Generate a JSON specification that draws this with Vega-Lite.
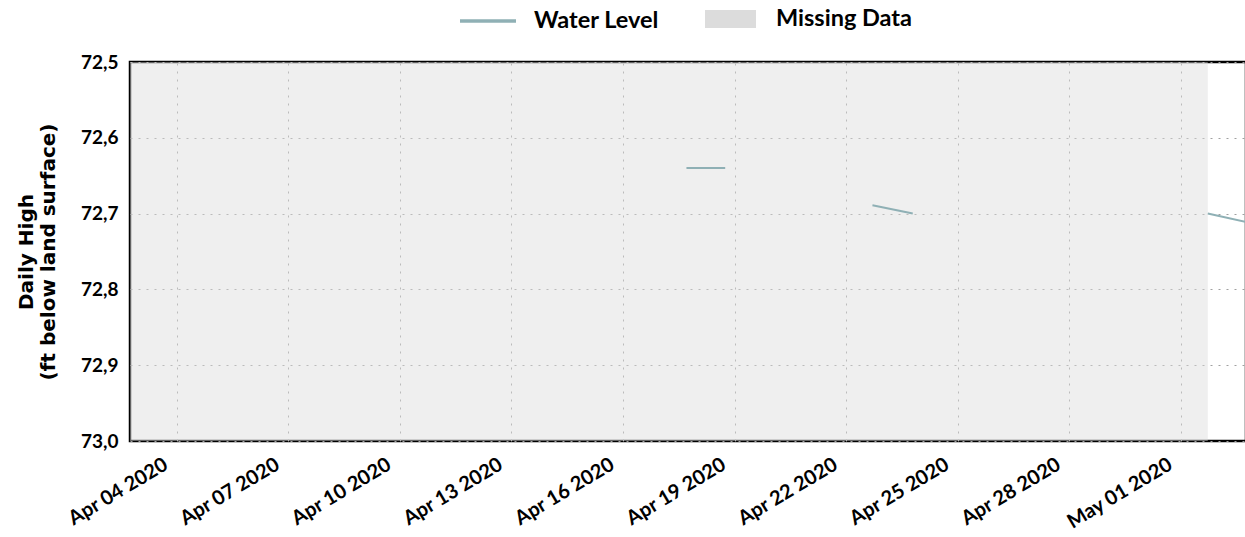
{
  "$schema": "https://vega.github.io/schema/vega-lite/v6.json",
  "autosize": {"type": "none"},
  "padding": {"left": 130, "top": 62, "right": 0, "bottom": 96},
  "width": 1116,
  "height": 379,
  "config": {
    "view": {"stroke": "black", "strokeWidth": 2.5},
    "font": "Lato",
    "axis": {
      "labelFont": "Lato", "labelFontWeight": "bold", "labelColor": "black",
      "titleFont": "DejaVu Sans", "titleFontWeight": "bold", "titleColor": "black",
      "domain": false, "ticks": false,
      "grid": true, "gridColor": "#a0a0a0", "gridDash": [2, 6], "gridWidth": 1,
      "zindex": 1
    },
    "legend": {
      "labelFont": "Lato", "labelFontWeight": "bold", "labelColor": "black", "labelFontSize": 23.5,
      "symbolOpacity": 1, "padding": 0
    }
  },
  "datasets": {
    "level": [
      {"date": "2020-04-17T17:00:00", "level": 72.64, "seg": "a"},
      {"date": "2020-04-18T18:00:00", "level": 72.64, "seg": "a"},
      {"date": "2020-04-22T17:00:00", "level": 72.689, "seg": "b"},
      {"date": "2020-04-23T19:00:00", "level": 72.7, "seg": "b"},
      {"date": "2020-05-01T17:20:00", "level": 72.7, "seg": "c"},
      {"date": "2020-05-02T18:00:00", "level": 72.711, "seg": "c"}
    ],
    "missing": [
      {"start": "2020-04-02T18:00:00", "end": "2020-05-01T17:20:00"}
    ]
  },
  "layer": [
    {
      "data": {"name": "missing"},
      "mark": {"type": "rect", "opacity": 0.45},
      "encoding": {
        "x": {"field": "start", "type": "temporal"},
        "x2": {"field": "end"},
        "color": {
          "datum": "Missing Data",
          "type": "nominal",
          "scale": {"domain": ["Missing Data"], "range": ["#dcdcdc"]},
          "legend": {
            "orient": "none", "legendX": 575, "legendY": -68.5, "direction": "horizontal", "title": null,
            "symbolType": "M-1,-0.35L1,-0.35L1,0.35L-1,0.35Z",
            "symbolSize": 2601, "symbolStrokeWidth": 0, "labelOffset": 20
          }
        }
      }
    },
    {
      "data": {"name": "level"},
      "mark": {"type": "line", "strokeWidth": 2, "clip": true},
      "encoding": {
        "x": {
          "field": "date", "type": "temporal",
          "scale": {"domain": ["2020-04-02T18:00:00", "2020-05-02T18:00:00"]},
          "axis": {
            "title": null, "format": "%b %d %Y",
            "values": [
              "2020-04-04T00:00:00", "2020-04-07T00:00:00", "2020-04-10T00:00:00",
              "2020-04-13T00:00:00", "2020-04-16T00:00:00", "2020-04-19T00:00:00",
              "2020-04-22T00:00:00", "2020-04-25T00:00:00", "2020-04-28T00:00:00",
              "2020-05-01T00:00:00"
            ],
            "labelOverlap": false,
            "labelAngle": -31, "labelAlign": "right", "labelBaseline": "top",
            "labelFontSize": 20, "labelPadding": 13, "labelOffset": -16
          }
        },
        "y": {
          "field": "level", "type": "quantitative",
          "scale": {"domain": [72.5, 73.0], "reverse": true, "nice": false, "zero": false},
          "axis": {
            "title": ["Daily High", "(ft below land surface)"],
            "titleFontSize": 20, "titlePadding": 22, "titleLineHeight": 22,
            "values": [72.5, 72.6, 72.7, 72.8, 72.9, 73.0],
            "format": ".1f", "labelExpr": "replace(datum.label, '.', ',')",
            "labelFontSize": 19, "labelPadding": 12
          }
        },
        "detail": {"field": "seg", "type": "nominal"},
        "color": {
          "datum": "Water Level",
          "type": "nominal",
          "scale": {"domain": ["Water Level"], "range": ["#8fb0b5"]},
          "legend": {
            "orient": "none", "legendX": 328, "legendY": -71, "direction": "horizontal", "title": null,
            "symbolType": "stroke", "symbolSize": 3136, "symbolStrokeWidth": 3.5,
            "labelOffset": 16
          }
        }
      }
    }
  ],
  "resolve": {"scale": {"color": "independent"}}
}
